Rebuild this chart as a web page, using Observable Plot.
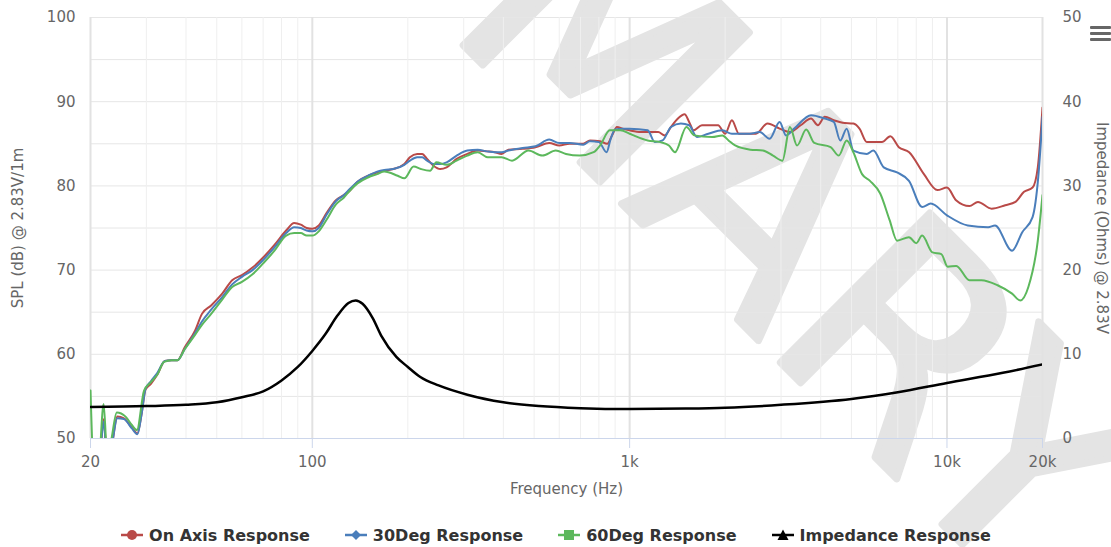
<!DOCTYPE html>
<html><head><meta charset="utf-8">
<script src="https://cdn.jsdelivr.net/npm/d3@7"></script>
<script src="https://cdn.jsdelivr.net/npm/@observablehq/plot@0.6"></script>
<style>
html,body{margin:0;padding:0;background:#fff;}
body{width:1111px;height:547px;overflow:hidden;position:relative;font-family:"DejaVu Sans",sans-serif;}
#wm{position:absolute;left:0;top:0;z-index:0;}
#chart{position:absolute;left:0;top:0;z-index:1;}
#legend{position:absolute;left:0;top:522px;width:1111px;height:26px;z-index:2;display:flex;justify-content:center;align-items:center;gap:34px;font:bold 16px "DejaVu Sans",sans-serif;color:#333;}
#legend .item{display:flex;align-items:center;gap:5px;}
#menu{position:absolute;left:1090px;top:26px;width:21px;z-index:2;}
#menu div{height:3px;background:#666;margin-bottom:3px;border-radius:1px;}
</style></head>
<body>
<div id="wm"></div>
<div id="chart"></div>
<div id="legend"></div>
<div id="menu"><div></div><div></div><div></div></div>
<script>
// ---- data ----
const onAxisFreq = [20,20.5,21.3,22.0,22.6,23.3,24.3,25.5,27,28.1,29,29.8,31,32.5,34.3,36,37.6,39.6,42.7,44.9,48,52,55.9,60,64.8,70,76,82.7,87.7,92,96,100,104.8,111,118.7,125.6,131,138.8,149.7,160,168.6,180,195,203,214,222,230,241,253,265,285,308,332,355,376,395,415,460,505,558,600,647,714,750,807,850,880,912,950,1000,1085,1230,1290,1350,1420,1490,1540,1590,1690,1900,2000,2100,2210,2500,2720,2970,3200,3460,3730,3920,4120,4400,4690,5070,5300,5590,6240,6630,7050,7600,8460,9330,10000,10680,11770,12520,13820,15260,16440,17490,18610,19330,20000];
const onAxisSpl = [47,46,47,52.3,47.5,49,52.6,52.4,51.3,50.6,53,55.8,56.5,57.6,59.2,59.3,59.3,60.8,62.8,64.8,65.8,67.2,68.8,69.4,70.3,71.5,73,74.7,75.6,75.4,75.0,74.9,75.3,76.8,78.3,78.9,79.4,80.5,81.2,81.6,81.8,82.0,82.6,83.4,83.8,83.8,83.2,82.4,82.0,82.2,83.2,83.8,84.2,84.1,84.0,83.8,84.3,84.4,84.6,85.1,84.8,85.0,85.0,85.4,85.3,85.0,86.0,87.0,86.8,86.6,86.4,86.4,86.0,87.0,88.0,88.5,87.6,86.6,87.2,87.2,86.2,87.8,86.2,86.2,87.4,86.8,86.4,87.2,88.0,87.2,88.2,87.8,87.5,87.4,86.8,85.2,85.2,85.9,84.6,84.0,81.4,79.5,79.8,78.3,77.6,78.1,77.3,77.7,78.1,79.3,79.8,82.2,89.3];

const deg30Freq = [20,21.3,22.0,22.6,23.3,24.3,25.5,27,28.1,29,29.8,31,32.5,34.3,36,37.6,39.6,42.7,44.9,48,52,55.9,60,64.8,70,76,82.7,87.7,92,96,100,104.8,111,118.7,125.6,131,138.8,149.7,160,168.6,180,195,203,214,222,230,241,253,265,285,308,332,355,376,395,415,460,505,558,600,647,714,750,800,846,870,900,950,1000,1140,1200,1270,1350,1450,1540,1630,1770,1960,2100,2390,2570,2760,2970,3110,3300,3730,4120,4400,4610,4830,5070,5590,5860,6320,6960,7590,8350,8890,10000,11630,13480,14170,16040,17270,18610,19400,20000];
const deg30Spl = [46,47,52.0,47,49,52.4,52.3,51.2,50.5,53,55.9,56.8,57.8,59.2,59.3,59.3,60.6,62.5,63.9,65.3,66.8,68.3,69.2,70.0,71.2,72.7,74.4,75.1,75.0,74.7,74.6,75.0,76.6,78.2,78.9,79.6,80.5,81.2,81.7,81.9,82.0,82.5,83.0,83.4,83.4,83.0,82.6,82.6,82.8,83.6,84.2,84.3,84.1,84.0,84.0,84.2,84.5,84.7,85.5,85.1,85.1,84.9,85.3,85.2,84.0,85.5,86.7,86.8,86.8,86.6,85.2,85.4,87.0,87.4,87.2,85.8,86.2,86.6,86.2,86.2,86.4,85.6,87.6,86.0,86.8,88.4,88.0,87.6,85.4,86.8,84.2,83.8,84.2,82.2,81.6,80.6,77.5,77.9,76.5,75.3,75.1,75.3,72.3,74.5,76.3,81.1,88.2];

const deg60Freq = [20,20.5,21.2,22.0,22.6,23.3,24.2,25.8,27,28.0,29.5,31,32.5,34.1,36,37.6,39.6,42.7,44.9,48,52,55.9,60,64.8,70,76,82.7,87.7,92,96,100,104.8,111,118.7,125.6,131,138.8,149.7,160,168.6,185.8,195,208.6,220,235,246,265,285,308,332,357,395,426,480,531,585,630,696,770,807,866,935,1000,1030,1140,1250,1330,1390,1510,1600,1820,1960,2050,2150,2400,2630,2830,3030,3200,3370,3600,3820,4300,4560,4830,5070,5400,5720,6160,6600,6960,7590,8000,8350,9000,9600,10050,10700,11770,12840,14440,16040,17020,18050,19330,20000];
const deg60Spl = [55.7,47,47,54.1,47.5,50,53.1,52.6,51.6,51.0,55.7,56.7,57.6,59.1,59.3,59.3,60.6,62.3,63.5,64.8,66.5,68.0,68.6,69.5,70.8,72.3,74.1,74.4,74.4,74.1,74.1,74.6,76.0,77.8,78.6,79.4,80.3,81.0,81.4,81.7,81.2,80.9,82.3,82.0,81.8,82.8,82.5,83.0,83.6,84.0,83.4,83.4,83.0,84.2,83.6,84.2,83.8,83.6,84.0,84.8,86.6,86.6,86.2,86.0,85.4,85.2,84.8,84.0,87.0,86.0,85.8,86.0,85.4,84.8,84.3,84.2,83.6,83.0,87.0,84.8,86.7,85.1,84.6,83.6,85.4,84.0,81.4,80.6,79.1,75.9,73.5,73.9,73.2,74.1,72.1,71.9,70.4,70.5,68.8,68.8,68.2,67.2,66.4,68.0,73.5,78.9];

const impFreq = [20,30,40,50,60,70,80,90,100,110,120,130,137,144,155,165,184,200,219,250,308,400,518,700,1000,1500,2000,3000,5000,7000,10000,15000,20000];
const impOhm = [3.75,3.85,4.0,4.3,4.9,5.6,6.9,8.5,10.4,12.4,14.6,16.1,16.4,16.0,14.3,12.2,9.7,8.5,7.3,6.3,5.2,4.3,3.85,3.6,3.5,3.55,3.65,4.0,4.7,5.5,6.6,7.8,8.8];

const seriesNames = ["On Axis Response","30Deg Response","60Deg Response","Impedance Response"];
const seriesColors = ["#b94a48","#4a7ebb","#5cb85c","#000000"];
const seriesMarkers = ["circle","diamond","square","triangle"];

const xTickValues = [20,100,1000,10000,20000];
const xTickLabels = ["20","100","1k","10k","20k"];
const xMinorGrid = [30,40,50,60,70,80,90,200,300,400,500,600,700,800,900,2000,3000,4000,5000,6000,7000,8000,9000];
const splTicks = [50,60,70,80,90,100];
const splGrid = [50,55,60,65,70,75,80,85,90,95,100];
const impTicks = [0,10,20,30,40,50];
const watermark = "MARY";

// ---- build ----
const zip = (fs, vs, name) => fs.map((f, i) => ({f, v: vs[i], name}));
const spl = [
  ...zip(onAxisFreq, onAxisSpl, seriesNames[0]),
  ...zip(deg30Freq, deg30Spl, seriesNames[1]),
  ...zip(deg60Freq, deg60Spl, seriesNames[2])
];
const imp = impFreq.map((f, i) => ({f, v: impOhm[i] + 50}));  // right axis 0..50 maps onto 50..100

// watermark behind the chart
const wm = d3.select("#wm").append("svg").attr("width", 1111).attr("height", 547);
wm.append("text")
  .attr("x", 800).attr("y", 240)
  .attr("transform", "rotate(45 800 240)")
  .attr("text-anchor", "middle").attr("dominant-baseline", "central")
  .attr("font-family", "DejaVu Sans").attr("font-size", 290)
  .attr("fill", "#e4e4e4").attr("stroke", "#e4e4e4").attr("stroke-width", 7).attr("stroke-linejoin", "round")
  .text(watermark);

const chart = Plot.plot({
  width: 1111, height: 515,
  marginLeft: 90, marginRight: 69, marginTop: 17, marginBottom: 77,
  style: {background: "transparent", fontFamily: "DejaVu Sans, sans-serif", fontSize: "15px", color: "#666"},
  x: {type: "log", domain: [20, 20000]},
  y: {domain: [50, 100]},
  color: {domain: seriesNames, range: seriesColors},
  marks: [
    Plot.ruleY(splGrid, {stroke: "#e6e6e6", strokeWidth: 1}),
    Plot.ruleX(xMinorGrid, {stroke: "#efefef", strokeWidth: 1}),
    Plot.ruleX(xTickValues, {stroke: "#e2e2e2", strokeWidth: 2}),
    Plot.line(spl, {x: "f", y: "v", z: "name", stroke: "name", strokeWidth: 2, curve: "monotone-x", clip: true}),
    Plot.line(imp, {x: "f", y: "v", stroke: "#000", strokeWidth: 2.5, curve: "monotone-x", clip: true}),
    Plot.ruleY([50], {stroke: "#ccd6eb", strokeWidth: 1}),
    Plot.axisX({ticks: xTickValues, tickFormat: (d) => xTickLabels[xTickValues.indexOf(d)], tickSize: 10, tickPadding: 8, stroke: "#ccd6eb", strokeWidth: 1, label: null, fill: "#666", fontSize: 15}),
    Plot.axisY({ticks: splTicks, anchor: "left", tickSize: 0, tickPadding: 15, label: null, fill: "#666", fontSize: 15}),
    Plot.axisY({ticks: splTicks, anchor: "right", tickSize: 0, tickPadding: 20, tickFormat: (d) => String(impTicks[splTicks.indexOf(d)]), label: null, fill: "#666", fontSize: 15, textAnchor: "start"}),
    Plot.text(["SPL (dB) @ 2.83V/1m"], {frameAnchor: "left", dx: -72, rotate: -90, textAnchor: "middle", fill: "#666", fontSize: 15}),
    Plot.text(["Impedance (Ohms) @ 2.83V"], {frameAnchor: "right", dx: 59, rotate: 90, textAnchor: "middle", fill: "#666", fontSize: 15}),
    Plot.text(["Frequency (Hz)"], {frameAnchor: "bottom", dy: 55, fill: "#666", fontSize: 15})
  ]
});
document.getElementById("chart").appendChild(chart);

// legend
const legend = d3.select("#legend");
seriesNames.forEach((name, i) => {
  const item = legend.append("div").attr("class", "item");
  const s = item.append("svg").attr("width", 24).attr("height", 14);
  s.append("line").attr("x1", 1).attr("x2", 23).attr("y1", 7).attr("y2", 7).attr("stroke", seriesColors[i]).attr("stroke-width", 2.5);
  const c = seriesColors[i];
  if (seriesMarkers[i] === "circle") s.append("circle").attr("cx", 12).attr("cy", 7).attr("r", 5).attr("fill", c);
  else if (seriesMarkers[i] === "diamond") s.append("path").attr("d", "M12,2L17,7L12,12L7,7Z").attr("fill", c);
  else if (seriesMarkers[i] === "square") s.append("rect").attr("x", 7).attr("y", 2).attr("width", 10).attr("height", 10).attr("fill", c);
  else s.append("path").attr("d", "M12,1.5L17.5,12L6.5,12Z").attr("fill", c);
  item.append("span").text(name);
});
</script>
</body></html>
